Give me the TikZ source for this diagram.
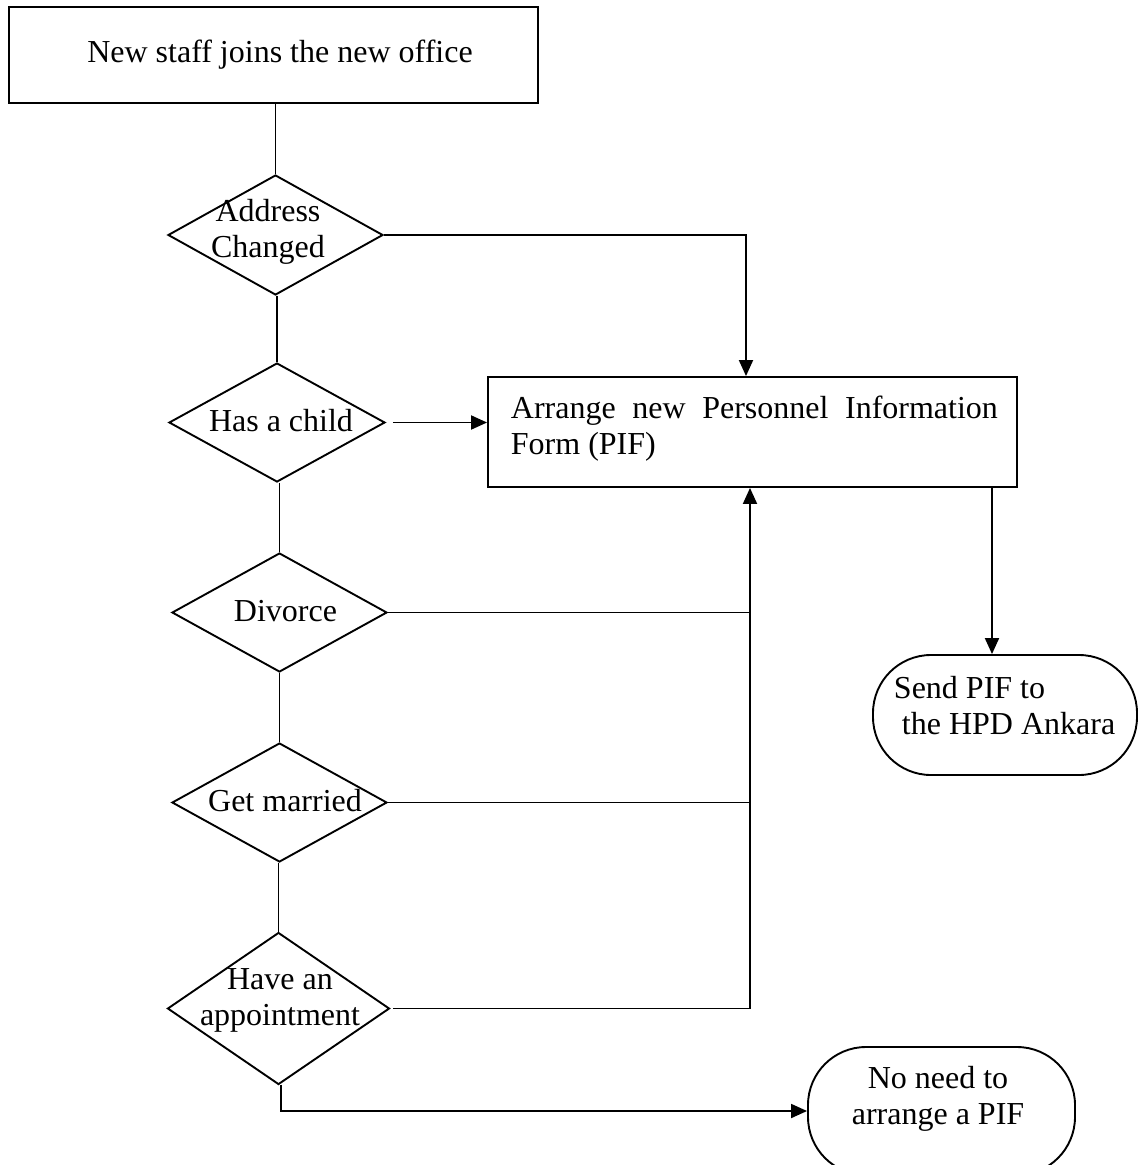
\documentclass[tikz,border=0pt]{standalone}
\usepackage{fontspec}
\setmainfont{Liberation Serif}
\usetikzlibrary{shapes.geometric,arrows.meta}
\begin{document}
\begin{tikzpicture}[x=1pt,y=-1pt,line width=1.9pt,
  every node/.style={font=\fontsize{32}{36}\selectfont},
  boxnode/.style={draw,rectangle,inner sep=0pt},
  dia/.style={draw,diamond,inner sep=0pt},
  stad/.style={draw,rectangle,rounded corners=58pt,inner sep=0pt},
  txt/.style={align=center,inner sep=0pt},
  arr/.style={-{Triangle[length=16pt,width=14pt]}}]
\useasboundingbox (0,0) rectangle (1139,1165);
\clip (0,0) rectangle (1139,1165);
% boxes
\node[boxnode,minimum width=529,minimum height=96] (start) at (273.5,55) {};
\node[txt] (tstart) at (280,54.5) {New staff joins the new office};
\node[boxnode,minimum width=529,minimum height=110] (pif) at (752.5,432) {};
\node[anchor=north west,inner sep=0pt,align=left] (tpif) at (510,395)
  {\makebox[487pt][s]{Arrange new Personnel Information}\\Form (PIF)};
\node[stad,minimum width=264,minimum height=120] (send) at (1005,715) {};
\node[anchor=north west,inner sep=0pt,align=left] (tsend) at (893,675)
  {Send PIF to\\\hspace*{8pt}the HPD Ankara};
\node[stad,minimum width=267,minimum height=128] (nn) at (941.5,1111) {};
\node[txt] (tnn) at (938,1098.5) {No need to\\arrange a PIF};
% diamonds
\node[dia,minimum width=215,minimum height=120] (d1) at (275.5,235) {};
\node[txt] (t1) at (268,231.5) {Address\\Changed};
\node[dia,minimum width=216,minimum height=119] (d2) at (277,422.5) {};
\node[txt] (t2) at (281,421) {Has a child};
\node[dia,minimum width=215,minimum height=119] (d3) at (279.5,612.5) {};
\node[txt] (t3) at (285.5,611) {Divorce};
\node[dia,minimum width=215,minimum height=119] (d4) at (279.5,802.5) {};
\node[txt] (t4) at (285,801) {Get married};
\node[dia,minimum width=222,minimum height=152] (d5) at (278.5,1008.5) {};
\node[txt] (t5) at (280,1000.5) {Have an\\appointment};
% helper coordinates
\coordinate (j1) at (746,235);
\coordinate (bus) at (750,1008.5);
\coordinate (sx) at (992,600);
\coordinate (tick) at (281,1084.5);
% connectors
\draw (d1.north |- start.south) -- (d1.north);
\draw[arr] (d1.east) -- (j1) -- (j1 |- pif.north);
\draw (d2.north |- d1.south) -- (d2.north);
\draw[arr] ([xshift=7pt]d2.east) -- (d2.east -| pif.west);
\draw (d3.north |- d2.south) -- (d3.north);
\draw (d3.east) -- (d3.east -| bus);
\draw (d4.north |- d3.south) -- (d4.north);
\draw (d4.east) -- (d4.east -| bus);
\draw (d5.north |- d4.south) -- (d5.north);
\draw ([xshift=3pt]d5.east) -- (bus);
\draw[arr] (bus) -- (bus |- pif.south);
\draw[arr] (tick) -- (tick |- nn.west) -- (nn.west);
\draw[arr] (pif.south -| sx) -- (sx |- send.north);
\end{tikzpicture}
\end{document}
